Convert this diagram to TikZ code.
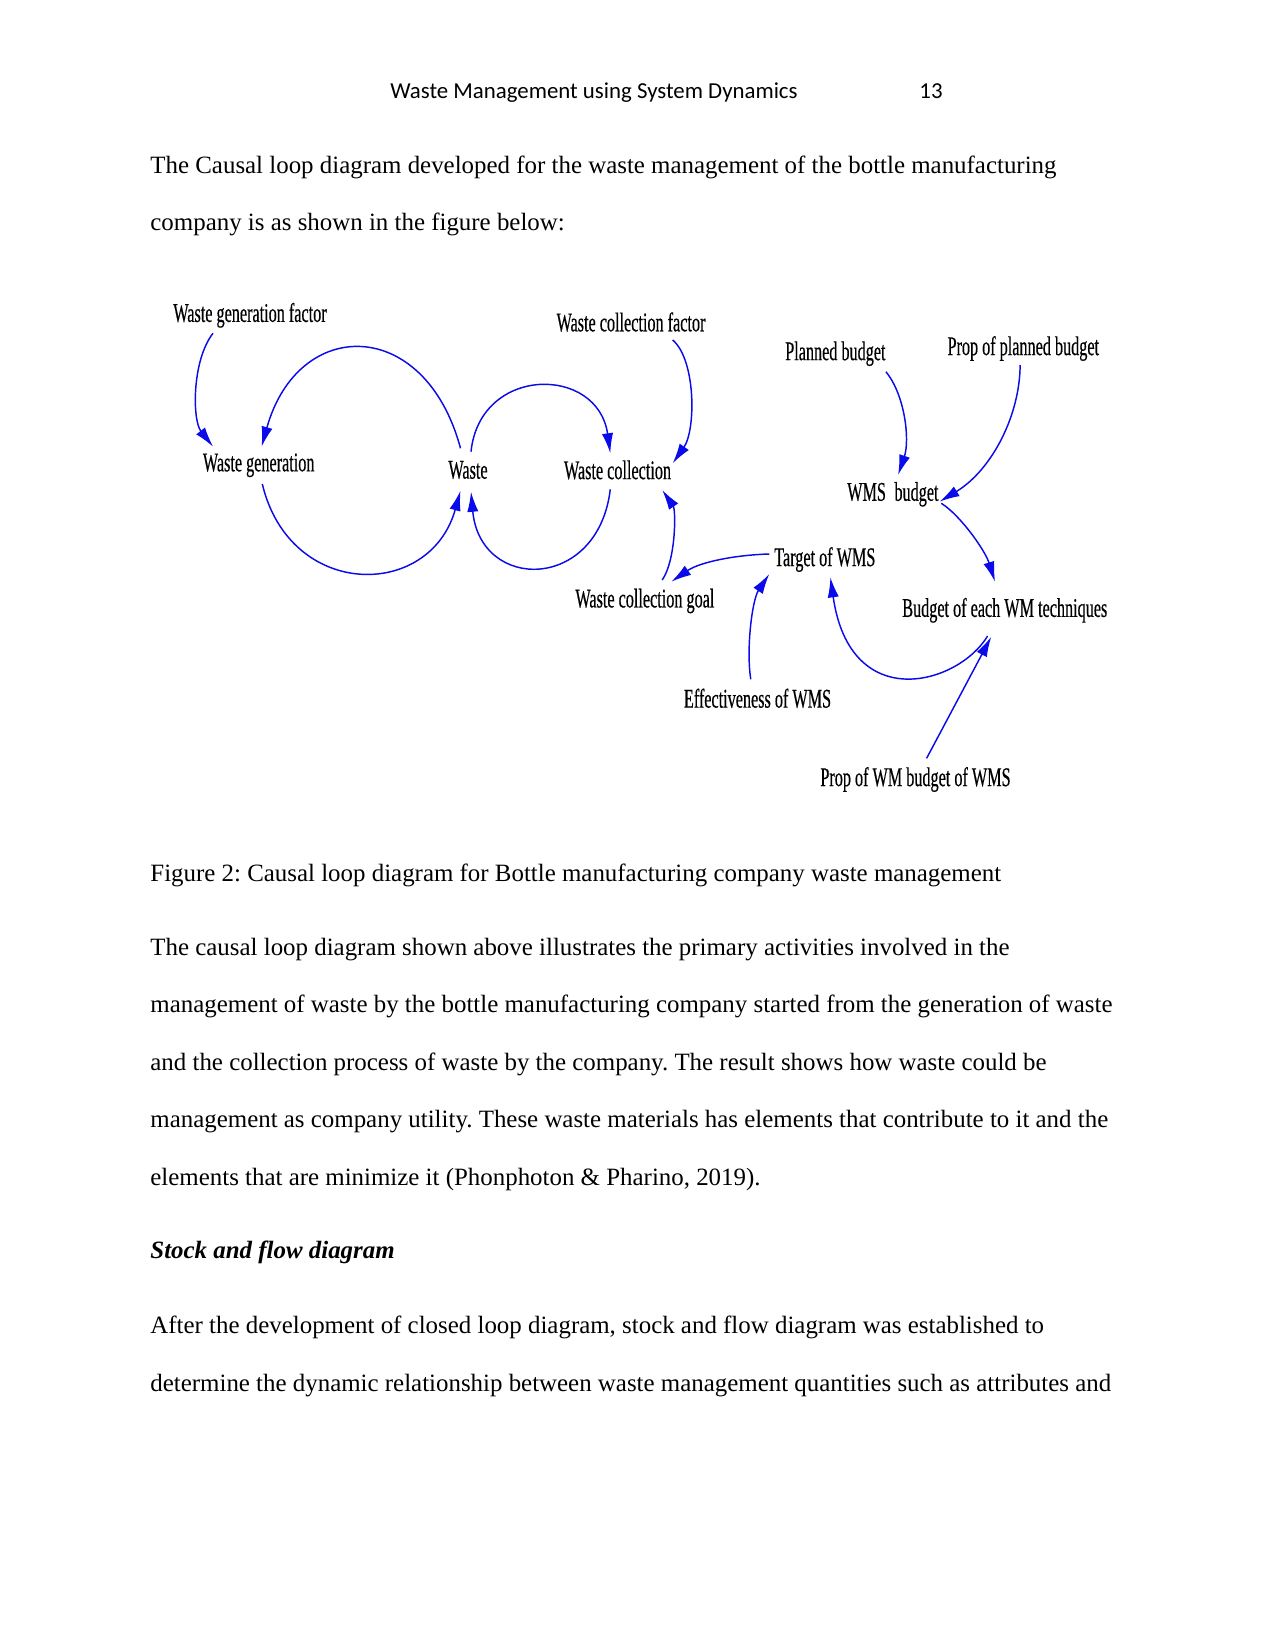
\documentclass[tikz,border=0pt]{standalone}
\usepackage{fontspec}
\setmainfont{Liberation Serif}
\newfontfamily\headfont{Carlito}
\newfontfamily\cldfont[FakeStretch=0.6, FakeBold=0.4]{Liberation Serif}
\usepackage{tikz}
\usetikzlibrary{arrows.meta}
\definecolor{linkblue}{RGB}{10,10,235}
\frenchspacing

\begin{document}
\begin{tikzpicture}[x=0.169333mm, y=-0.169333mm,
    body/.style={anchor=base west, inner sep=0pt, font=\fontsize{12}{14}\selectfont},
    var/.style={inner sep=0pt, font=\cldfont\fontsize{13}{15}\selectfont},
    link/.style={linkblue, line width=0.7pt, -{Latex[length=3.4mm, width=1.9mm]}}]
  \useasboundingbox[fill=white] (0,0) rectangle (1275,1651);
  % running head
  \node[anchor=base, inner sep=0pt, font=\headfont\fontsize{11}{13}\selectfont] (head) at (594,98) {Waste Management using System Dynamics};
  \node[anchor=base, inner sep=0pt, font=\headfont\fontsize{11}{13}\selectfont] (page) at (931,98) {13};
  % text above the figure
  \node[body] (p1) at (150,173) {The Causal loop diagram developed for the waste management of the bottle manufacturing};
  \node[body] (p2) at (150,230.5) {company is as shown in the figure below:};
  % variables
  \node[var] (wgf)  at (250,315.3)   {Waste generation factor};
  \node[var] (wcf)  at (631,322)     {Waste collection factor};
  \node[var] (pb)   at (835.4,353.7) {Planned budget};
  \node[var] (ppb)  at (1023.3,348.5){Prop of planned budget};
  \node[var] (wg)   at (258.7,465.3) {Waste generation};
  \node[var] (w)    at (468,470)     {Waste};
  \node[var] (wc)   at (617.5,470)   {Waste collection};
  \node[var] (wmsb) at (892.9,494.3) {WMS\, budget};
  \node[var] (twms) at (824.8,559.5) {Target of WMS};
  \node[var] (wcg)  at (644.9,601)   {Waste collection goal};
  \node[var] (bwm)  at (1004.8,610.3){Budget of each WM techniques};
  \node[var] (ewms) at (757.5,698.3) {Effectiveness of WMS};
  \node[var] (pwm)  at (915.5,779.5) {Prop of WM budget of WMS};
  % links: generation loop
  \draw[link] ([shift={(-37,18)}]wgf.center) .. controls (192,360) and (192,420) .. ([shift={(-45.6,-18.6)}]wg.center);
  \draw[link] ([shift={(-7.5,-21.7)}]w.center) .. controls (425,316) and (298,316) .. ([shift={(2.9,-18.6)}]wg.center);
  \draw[link] ([shift={(3.6,18.7)}]wg.center) .. controls (290,600) and (430,600) .. ([shift={(-7.5,20.7)}]w.center);
  % links: collection loop
  \draw[link] ([shift={(3,-18.3)}]w.center) .. controls (480,365) and (598,365) .. ([shift={(-7.2,-16.7)}]wc.center);
  \draw[link] ([shift={(-7.2,19.3)}]wc.center) .. controls (598,592) and (480,592) .. ([shift={(3,21.7)}]w.center);
  \draw[link] ([shift={(41.7,18)}]wcf.center) .. controls (696,360) and (696,430) .. ([shift={(55.2,-6.7)}]wc.center);
  \draw[link] ([shift={(17.3,-21)}]wcg.center) .. controls (676,560) and (676,510) .. ([shift={(44.7,20)}]wc.center);
  \draw[link] ([shift={(-55.5,-5.5)}]twms.center) .. controls (735,555) and (700,562) .. ([shift={(26.4,-19.3)}]wcg.center);
  % links: budget
  \draw[link] ([shift={(50.5,18)}]pb.center) .. controls (905,395) and (910,440) .. ([shift={(5.2,-19.3)}]wmsb.center);
  \draw[link] ([shift={(-3.2,16.5)}]ppb.center) .. controls (1020,415) and (992,470) .. ([shift={(46.6,7.4)}]wmsb.center);
  \draw[link] ([shift={(48.4,9)}]wmsb.center) .. controls (960,515) and (985,550) .. ([shift={(-9.8,-28.6)}]bwm.center);
  \draw[link] ([shift={(-6.7,-19)}]ewms.center) .. controls (746,650) and (752,600) .. ([shift={(-55.5,14.5)}]twms.center);
  \draw[link] ([shift={(-17.2,25.7)}]bwm.center) .. controls (958,685) and (850,715) .. ([shift={(5.6,17.8)}]twms.center);
  \draw[link] ([shift={(11.1,-21.2)}]pwm.center) -- ([shift={(-13.5,26.4)}]bwm.center);
  % caption and text below
  \node[body] (cap) at (150,881) {Figure 2: Causal loop diagram for Bottle manufacturing company waste management};
  \node[body] (p3) at (150,955) {The causal loop diagram shown above illustrates the primary activities involved in the};
  \node[body] (p4) at (150,1012.5) {management of waste by the bottle manufacturing company started from the generation of waste};
  \node[body] (p5) at (150,1070) {and the collection process of waste by the company. The result shows how waste could be};
  \node[body] (p6) at (150,1127.5) {management as company utility. These waste materials has elements that contribute to it and the};
  \node[body] (p7) at (150,1185) {elements that are minimize it (Phonphoton \& Pharino, 2019).};
  \node[body, font=\fontsize{12}{14}\selectfont\bfseries\itshape] (sub) at (150,1258.5) {Stock and flow diagram};
  \node[body] (p8) at (150,1333.5) {After the development of closed loop diagram, stock and flow diagram was established to};
  \node[body] (p9) at (150,1391) {determine the dynamic relationship between waste management quantities such as attributes and};
\end{tikzpicture}
\end{document}
